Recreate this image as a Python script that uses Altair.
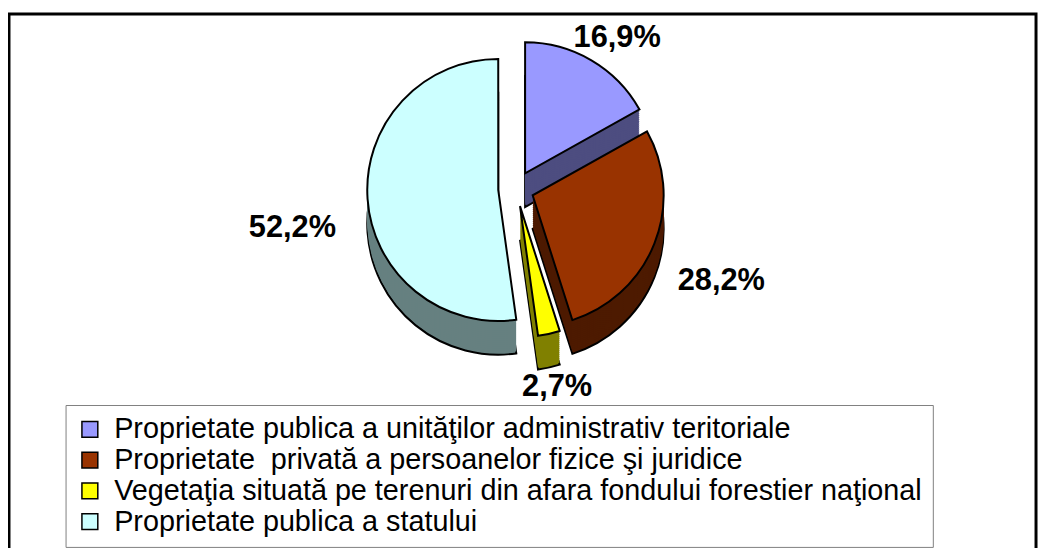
import math
import altair as alt
import pandas as pd

# ---- data ----
categories = [
    "Proprietate publica a unităţilor administrativ teritoriale",
    "Proprietate\u00a0 privată a persoanelor fizice şi juridice",
    "Vegetaţia situată pe terenuri din afara fondului forestier naţional",
    "Proprietate publica a statului",
]
shares = [16.9, 28.2, 2.7, 52.2]
labels = ["16,9%", "28,2%", "2,7%", "52,2%"]

# ---- styles ----
top_colors = ["#9999FF", "#993300", "#FFFF00", "#CCFFFF"]
side_colors = ["#4D4D80", "#4D1A00", "#808000", "#668080"]
FONT = "Liberation Sans"
CX, CY = 511, 176      # pie centre inside the view
R = 132                # pie radius
EX = 18                # explode distance
DEPTH = 34             # 3-D thickness
LR = R + EX + 26       # label radius
LW = 50                # extra horizontal room for the label text
STEP = 2

df = pd.DataFrame({"cat": categories, "share": shares, "label": labels,
                   "order": list(range(len(categories)))})

base = (
    alt.Chart(df)
    .transform_window(cum="sum(share)", sort=[alt.SortField("order")], frame=[None, 0])
    .transform_calculate(
        start="datum.cum - datum.share",
        end="datum.cum",
        mid="(datum.cum - datum.share / 2) * 2 * PI / 100",
    )
    .transform_calculate(
        px=f"{CX} + {EX} * sin(datum.mid)",
        py=f"{CY} - {EX} * cos(datum.mid)",
        lx=f"{CX} + ({LR} + {LW} * abs(sin(datum.mid))) * sin(datum.mid)",
        ly=f"{CY} - {LR} * cos(datum.mid) + (cos(datum.mid) < 0 ? {DEPTH - 6} : 0)",
    )
)

theta = alt.Theta("start:Q", stack=None,
                  scale=alt.Scale(domain=[0, 100], range=[0, 2 * math.pi]))
theta2 = alt.Theta2("end:Q")
xenc = alt.X("px:Q", scale=None, axis=None)

side_fill = alt.Fill("cat:N", sort=alt.EncodingSortField("order", op="min"),
                     scale=alt.Scale(range=side_colors), legend=None)

layers = []
for k in range(DEPTH, 0, -STEP):
    props = {"radius": R}
    if k == DEPTH:
        props.update(stroke="black", strokeWidth=2)
    else:
        props.update(strokeWidth=0)
    layers.append(
        base.transform_calculate(sy=f"datum.py + {k}")
        .mark_arc(**props)
        .encode(theta=theta, theta2=theta2, x=xenc,
                y=alt.Y("sy:Q", scale=None, axis=None), fill=side_fill)
    )

top = base.mark_arc(radius=R, stroke="black", strokeWidth=2).encode(
    theta=theta, theta2=theta2, x=xenc,
    y=alt.Y("py:Q", scale=None, axis=None),
    color=alt.Color(
        "cat:N",
        scale=alt.Scale(domain=categories, range=top_colors),
        legend=alt.Legend(
            title=None, orient="none", legendX=57, legendY=394,
            symbolType="square", symbolSize=256,
            symbolStrokeColor="black", symbolStrokeWidth=1.5,
            labelFont=FONT, labelFontSize=29, labelColor="black",
            labelLimit=1200, labelOffset=10, rowPadding=1,
            padding=10, strokeColor="#808080", fillColor="white",
        ),
    ),
)
layers.append(top)

text = base.mark_text(font=FONT, fontSize=31, fontWeight="bold", color="black",
                      align="center", baseline="middle").encode(
    x=alt.X("lx:Q", scale=None, axis=None),
    y=alt.Y("ly:Q", scale=None, axis=None),
    text="label:N",
)
layers.append(text)

chart = (
    alt.layer(*layers)
    .properties(width=1035, height=560,
                padding={"left": 1, "top": 4, "right": 3, "bottom": -24},
                autosize=alt.AutoSizeParams(type="none"))
    .configure_view(stroke="black", strokeWidth=3, fill="white")
)

chart.save("out.html", embed_options={"renderer": "svg", "actions": False})
